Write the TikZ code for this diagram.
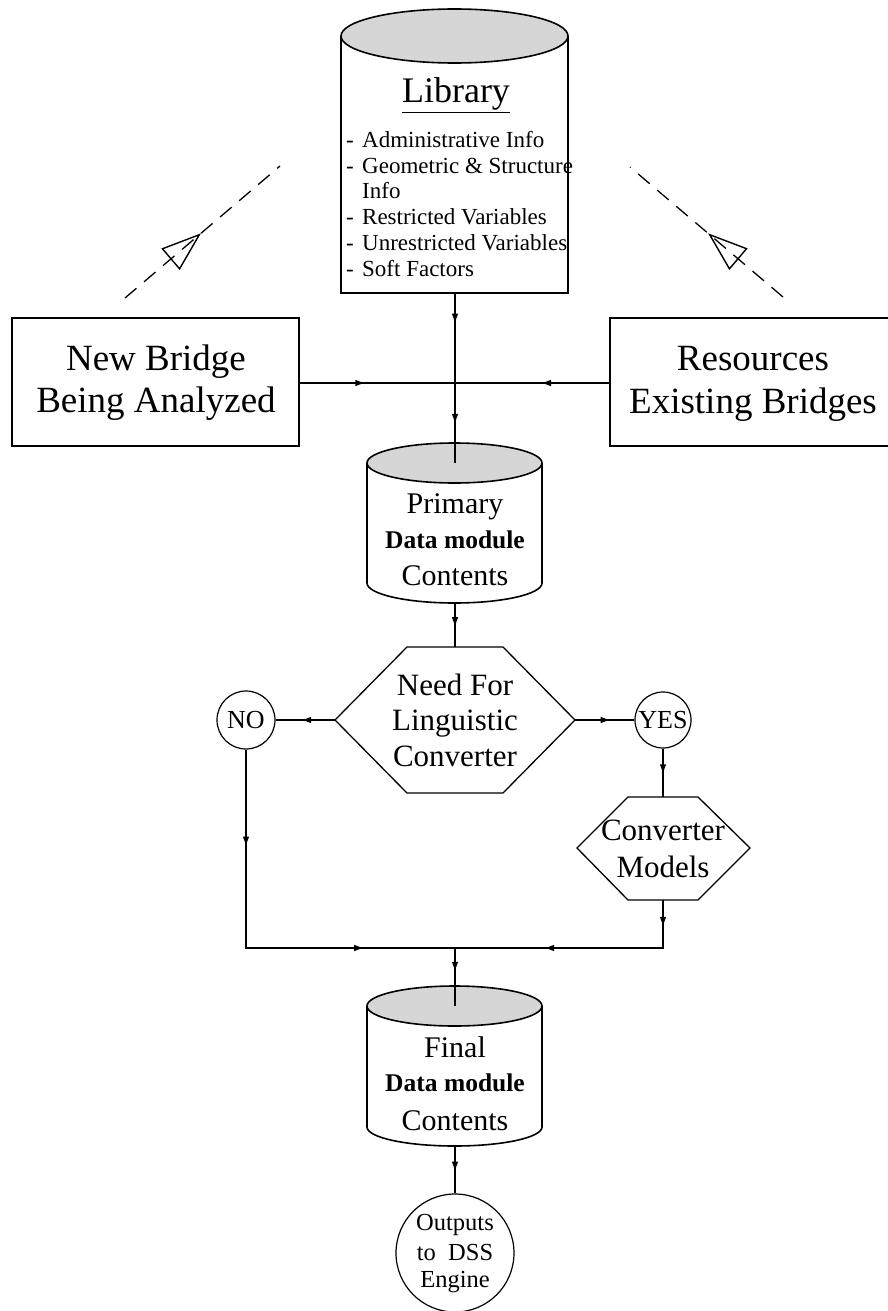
\documentclass[tikz,border=0pt]{standalone}
\usepackage{fontspec}
\setmainfont{Liberation Serif}
\usetikzlibrary{arrows.meta,decorations.markings}
\definecolor{topgray}{RGB}{214,214,214}
\newcommand\setsz[1]{\fontsize{#1}{#1}\selectfont}
\tikzset{
  txt/.style={inner sep=0pt, anchor=base},
  itm/.style={inner sep=0pt, anchor=base west, font=\setsz{23}},
  bigbox/.style={draw, line width=2.8pt, minimum width=287pt, minimum height=128pt, inner sep=0pt},
  cyl/.style={line width=1.6pt},
  hexa/.style={line width=1.3pt, fill=white},
  ring/.style={draw, circle, line width=1.2pt, inner sep=0pt, fill=white},
  flow/.style={line width=1.1pt},
  tipat/.style={postaction={decorate, decoration={markings,
      mark=at position #1 with {\arrow{Latex[length=10pt,width=6.5pt]}}}}},
  feed/.style={line width=1.3pt, dash pattern=on 15pt off 10pt},
  opentipat/.style={postaction={decorate, decoration={markings,
      mark=at position #1 with {\arrow[line width=1.4pt]{Triangle[open,length=40pt,width=28pt]}}}}}
}
\begin{document}
\begin{tikzpicture}[x=1pt, y=-1pt]
\useasboundingbox (0,0) rectangle (888,1311);
\fill[white] (0,0) rectangle (888,1311);

% ---------- Library store ----------
\draw[cyl, fill=white] (341,36) -- (341,293) -- (568,293) -- (568,36);
\draw[cyl, fill=topgray] (454.5,36) ellipse [x radius=113.5, y radius=27];
\coordinate (libB) at (455,293);
\node[txt, font=\setsz{36}] (libtitle) at (456,103) {\underline{Library}};
\node[itm] (li1) at (346,147) {\makebox[16pt][l]{-}Administrative Info};
\node[itm] (li2) at (346,173) {\makebox[16pt][l]{-}Geometric \& Structure};
\node[itm] (li3) at (346,198) {\hspace*{16pt}Info};
\node[itm] (li4) at (346,224) {\makebox[16pt][l]{-}Restricted Variables};
\node[itm] (li5) at (346,250) {\makebox[16pt][l]{-}Unrestricted Variables};
\node[itm] (li6) at (346,276) {\makebox[16pt][l]{-}Soft Factors};

% ---------- Source boxes ----------
\node[bigbox] (newb) at (155.5,382) {};
\node[txt, font=\setsz{37}] (newb1) at (156,370) {New Bridge};
\node[txt, font=\setsz{37}] (newb2) at (156,412) {Being Analyzed};
\node[bigbox] (res) at (753.5,382) {};
\node[txt, font=\setsz{37}] (res1) at (753,370) {Resources};
\node[txt, font=\setsz{37}] (res2) at (753,413) {Existing Bridges};

% ---------- Feedback lines towards the library ----------
\coordinate (fbL0) at (125,298);
\coordinate (fbL1) at (280,166);
\coordinate (fbR0) at (783,297);
\coordinate (fbR1) at (630,167);
\draw[feed, opentipat=0.49] (fbL0) -- (fbL1);
\draw[feed, opentipat=0.49] (fbR0) -- (fbR1);

% ---------- Primary data module ----------
\draw[cyl, fill=white] (367,463) -- (367,583) arc[start angle=180, end angle=0, x radius=87.5, y radius=20] -- (542,463);
\draw[cyl, fill=topgray] (454.5,463) ellipse [x radius=87.5, y radius=20];
\coordinate (primC) at (455,463);
\coordinate (primB) at (455,603);
\node[txt, font=\setsz{30}] (prim1) at (455,513) {Primary};
\node[txt, font=\setsz{25.5}\bfseries] (prim2) at (455,548) {Data module};
\node[txt, font=\setsz{30}] (prim3) at (455,585) {Contents};

% ---------- Decision ----------
\draw[hexa] (335,720) -- (407,647) -- (503,647) -- (575,720) -- (503,793) -- (407,793) -- cycle;
\coordinate (needL) at (335,720);
\coordinate (needR) at (575,720);
\coordinate (needT) at (455,647);
\node[txt, font=\setsz{31}] (need1) at (455,695) {Need For};
\node[txt, font=\setsz{31}] (need2) at (455,730) {Linguistic};
\node[txt, font=\setsz{31}] (need3) at (455,766) {Converter};

\node[ring, minimum size=58pt, font=\setsz{26}] (no) at (246,720) {NO};
\node[ring, minimum size=56pt, font=\setsz{26}] (yes) at (663,720) {YES};

% ---------- Converter models ----------
\draw[hexa] (577,848) -- (628,797) -- (698,797) -- (750,848) -- (698,900) -- (628,900) -- cycle;
\coordinate (convT) at (663,797);
\coordinate (convB) at (663,900);
\node[txt, font=\setsz{31}] (conv1) at (663,840) {Converter};
\node[txt, font=\setsz{31}] (conv2) at (663,877) {Models};

% ---------- Final data module ----------
\draw[cyl, fill=white] (367,1006) -- (367,1127) arc[start angle=180, end angle=0, x radius=87.5, y radius=19] -- (542,1006);
\draw[cyl, fill=topgray] (454.5,1006) ellipse [x radius=87.5, y radius=20];
\coordinate (finC) at (455,1006);
\coordinate (finB) at (455,1146);
\node[txt, font=\setsz{30}] (fin1) at (455,1057) {Final};
\node[txt, font=\setsz{25.5}\bfseries] (fin2) at (455,1091) {Data module};
\node[txt, font=\setsz{30}] (fin3) at (455,1130) {Contents};

% ---------- Output ----------
\node[ring, minimum size=118pt] (out) at (455,1253) {};
\node[txt, font=\setsz{24.5}] (out1) at (455,1230) {Outputs};
\node[txt, font=\setsz{24.5}] (out2) at (455,1260) {to~ DSS};
\node[txt, font=\setsz{24.5}] (out3) at (455,1287) {Engine};

% ---------- Junctions ----------
\coordinate (noJ) at (246,948);
\coordinate (convJ) at (663,948);
\coordinate (midJ) at (455,948);

% ---------- Connectors ----------
\draw[flow, tipat=0.18, tipat=0.77] (libB) -- (primC);
\draw[flow, tipat=0.42] (newb.east |- 0,383) -- (455,383);
\draw[flow, tipat=0.44] (res.west |- 0,383) -- (455,383);
\draw[flow, tipat=0.55] (primB) -- (needT);
\draw[flow, tipat=0.57] (needL) -- (no.east);
\draw[flow, tipat=0.6] (needR) -- (yes.west);
\draw[flow, tipat=0.53] (yes.south) -- (convT);
\draw[flow, tipat=0.238, tipat=0.777] (no.south) -- (noJ) -- (midJ);
\draw[flow, tipat=0.105, tipat=0.652] (convB) -- (convJ) -- (midJ);
\draw[flow, tipat=0.41] (midJ) -- (finC);
\draw[flow, tipat=0.54] (finB) -- (out.north);
\end{tikzpicture}
\end{document}
